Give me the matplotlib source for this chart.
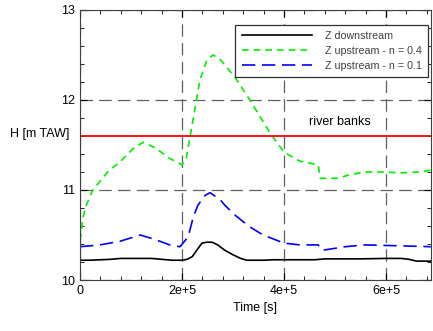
import matplotlib.pyplot as plt
import numpy as np
from matplotlib.ticker import MultipleLocator

plt.rcParams['font.family'] = ['Liberation Sans', 'DejaVu Sans']

# time in kilo-seconds
t_down = [0, 20, 40, 60, 80, 100, 120, 140, 160, 180, 200, 210, 220, 230, 239, 249,
          259, 270, 284, 300, 315, 327, 340, 360, 380, 400, 420, 440, 460, 470, 480, 500,
          550, 600, 630, 645, 660, 690]
z_down = [10.22, 10.22, 10.225, 10.23, 10.24, 10.24, 10.24, 10.24, 10.23, 10.22, 10.22,
          10.23, 10.26, 10.34, 10.41, 10.42, 10.42, 10.39, 10.33, 10.28, 10.24, 10.22,
          10.22, 10.22, 10.225, 10.225, 10.225, 10.225, 10.225, 10.23, 10.235, 10.235,
          10.235, 10.24, 10.24, 10.23, 10.21, 10.21]

t_up4 = [0, 6, 12, 25, 41, 57, 76, 106, 124, 147, 176, 200, 208, 216, 235, 249, 261, 275,
         304, 333, 373, 400, 431, 467, 471, 506, 529, 559, 598, 627, 667, 688]
z_up4 = [10.44, 10.7, 10.83, 11.0, 11.11, 11.22, 11.3, 11.47, 11.53, 11.47, 11.35, 11.28,
         11.35, 11.6, 12.22, 12.45, 12.5, 12.45, 12.25, 12.0, 11.63, 11.42, 11.32, 11.28,
         11.13, 11.13, 11.17, 11.2, 11.2, 11.19, 11.2, 11.22]

t_up1 = [0, 39, 78, 118, 147, 176, 196, 212, 222, 231, 245, 255, 275, 284, 304, 333, 359,
         400, 431, 467, 475, 520, 559, 627, 688]
z_up1 = [10.37, 10.39, 10.43, 10.5, 10.45, 10.39, 10.37, 10.48, 10.7, 10.83, 10.94, 10.97,
         10.89, 10.83, 10.72, 10.59, 10.5, 10.41, 10.39, 10.39, 10.33, 10.37, 10.39, 10.38,
         10.37]

river_banks = 11.6

fig = plt.figure(figsize=(4.33, 3.31), dpi=100)
ax = fig.add_axes([0.185, 0.154, 0.81, 0.816])

ax.plot(np.array(t_down) * 1e3, z_down, color='black', lw=1.2, label='Z downstream')
ax.plot(np.array(t_up4) * 1e3, z_up4, color='#00ee00', lw=1.2, ls=(0, (4, 3)),
        label='Z upstream - n = 0.4')
ax.plot(np.array(t_up1) * 1e3, z_up1, color='#0000ff', lw=1.2, ls=(0, (8, 4)),
        label='Z upstream - n = 0.1')
ax.axhline(river_banks, color='red', lw=1.3)
ax.text(510e3, 11.76, 'river banks', ha='center', va='center', fontsize=9)

ax.set_xlim(0, 688e3)
ax.set_ylim(10, 13)
ax.set_xticks([0, 2e5, 4e5, 6e5])
ax.set_xticklabels(['0', '2e+5', '4e+5', '6e+5'])
ax.set_yticks([10, 11, 12, 13])
ax.xaxis.set_minor_locator(MultipleLocator(4e4))
ax.yaxis.set_minor_locator(MultipleLocator(0.2))
ax.tick_params(which='both', direction='in', top=True, right=True, labelsize=9)
ax.tick_params(which='major', length=5)
ax.tick_params(which='minor', length=3)
ax.grid(True, which='major', color='#606060', ls=(0, (10, 5)), lw=0.9)
for s in ax.spines.values():
    s.set_color('#404040')

ax.set_xlabel('Time [s]', fontsize=9)
ax.set_ylabel('H [m TAW]', fontsize=9, rotation=0, ha='left', va='center')
ax.yaxis.set_label_coords(-0.2, 0.54)

leg = ax.legend(loc='upper right', bbox_to_anchor=(1.008, 0.965), fontsize=7.7,
                frameon=True, fancybox=False, edgecolor='#303030', framealpha=1,
                handlelength=6.6, handletextpad=1.2, borderpad=0.6, labelspacing=0.45)
leg.get_frame().set_linewidth(0.9)
for txt in leg.get_texts():
    txt.set_color('#404040')

fig.savefig('out.png', dpi=100)
